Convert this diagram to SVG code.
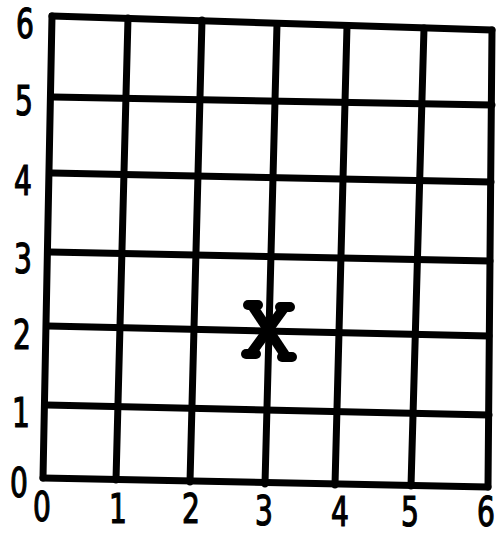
<svg xmlns="http://www.w3.org/2000/svg" width="498" height="535" viewBox="0 0 498 535">
<style>
.g{stroke:#000;stroke-width:7;stroke-linecap:round;fill:none}
.x{stroke:#000;stroke-width:10;stroke-linecap:round;fill:none}
.t{font-family:"DejaVu Sans Condensed","Liberation Sans Narrow","DejaVu Sans",sans-serif;font-size:40px;fill:#000;stroke:#000;stroke-width:1.2;text-anchor:middle}
</style>
<rect width="498" height="535" fill="#fff"/>
<g id="grid">
<line class="g" x1="52" y1="16" x2="492" y2="30"/>
<line class="g" x1="53" y1="97" x2="492" y2="105"/>
<line class="g" x1="52" y1="173" x2="491" y2="182"/>
<line class="g" x1="50" y1="252" x2="490" y2="261"/>
<line class="g" x1="48" y1="326" x2="489" y2="336"/>
<line class="g" x1="47" y1="405" x2="489" y2="415"/>
<line class="g" x1="43" y1="478" x2="488" y2="487"/>
<line class="g" x1="52" y1="16" x2="43" y2="478"/>
<line class="g" x1="128" y1="18" x2="116" y2="480"/>
<line class="g" x1="202" y1="20" x2="190" y2="482"/>
<line class="g" x1="277" y1="24" x2="265" y2="484"/>
<line class="g" x1="347" y1="26" x2="335" y2="485"/>
<line class="g" x1="424" y1="28" x2="411" y2="486"/>
<line class="g" x1="492" y1="30" x2="488" y2="487"/>
</g>
<g id="mark">
<line class="x" x1="253" y1="307" x2="285" y2="355"/>
<line class="x" x1="284" y1="308" x2="252" y2="352"/>
<line class="x" x1="248" y1="305" x2="258" y2="305"/>
<line class="x" x1="280" y1="307" x2="290" y2="307"/>
<line class="x" x1="246" y1="354" x2="256" y2="354"/>
<line class="x" x1="282" y1="357" x2="292" y2="357"/>
</g>
<g id="y-labels">
<text class="t" transform="translate(25,38) scale(0.78,1)">6</text>
<text class="t" transform="translate(24,115) scale(0.78,1)">5</text>
<text class="t" transform="translate(23,195) scale(0.78,1)">4</text>
<text class="t" transform="translate(23,273) scale(0.78,1)">3</text>
<text class="t" transform="translate(22,349) scale(0.78,1)">2</text>
<text class="t" transform="translate(21,427) scale(0.78,1)">1</text>
<text class="t" transform="translate(19,497) scale(0.78,1)">0</text>
</g>
<g id="x-labels">
<text class="t" transform="translate(42,521) scale(0.78,1)">0</text>
<text class="t" transform="translate(118,523) scale(0.78,1)">1</text>
<text class="t" transform="translate(191,523) scale(0.78,1)">2</text>
<text class="t" transform="translate(264,525) scale(0.78,1)">3</text>
<text class="t" transform="translate(340,526) scale(0.78,1)">4</text>
<text class="t" transform="translate(410,526) scale(0.78,1)">5</text>
<text class="t" transform="translate(486,526) scale(0.78,1)">6</text>
</g>
</svg>
